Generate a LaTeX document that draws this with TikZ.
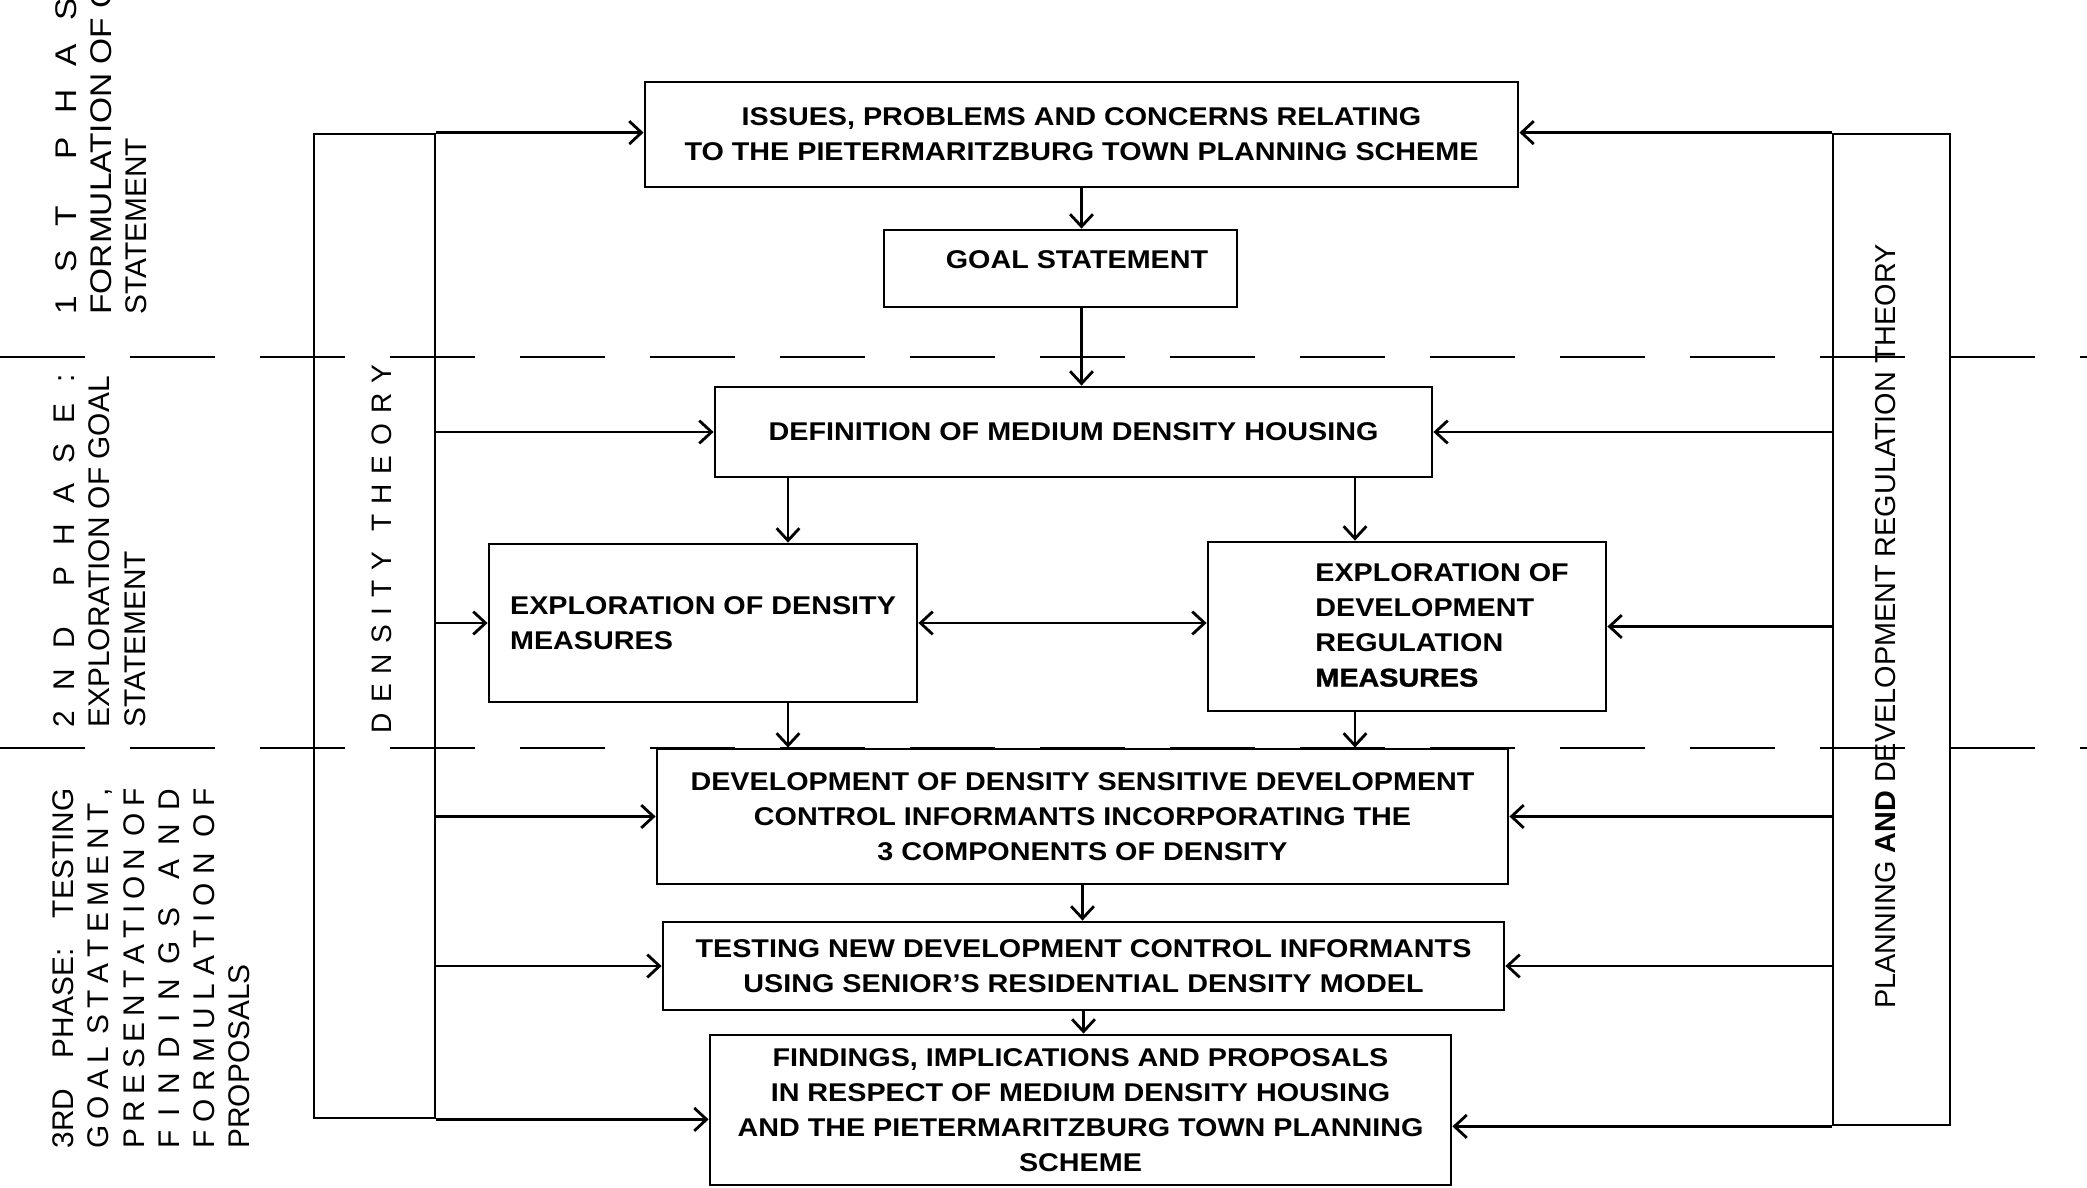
\documentclass[tikz,border=0pt]{standalone}
\usepackage{fontspec}
\setmainfont{Liberation Sans}
\newfontfamily\boxfont[FakeStretch=1.12]{Liberation Sans}
\newfontfamily\heavyfont[FakeStretch=1.12,FakeBold=1.5,UprightFont=* Bold,BoldFont=* Bold]{Liberation Sans}
\newfontfamily\widefont[FakeStretch=1.12]{Liberation Sans}
\usetikzlibrary{arrows.meta}

\tikzset{
    >={Straight Barb[length=3.5pt,width=6.5pt]},
    every path/.style={line width=0.8pt},
    box/.style={draw, line width=0.8pt, inner sep=0pt, align=center,
        font=\boxfont\bfseries\fontsize{7.3}{10}\selectfont},
    boxtext/.style={inner sep=0pt, font=\boxfont\bfseries\fontsize{7.3}{10}\selectfont},
    sidebar/.style={draw, line width=0.8pt, inner sep=0pt},
    phase/.style={rotate=90, align=left, inner sep=0pt, anchor=north west,
        font=\frenchspacing\fontsize{8.5}{10}\selectfont},
    phaseline/.style={line width=0.8pt, dash pattern=on 0.85cm off 0.45cm}
}

\begin{document}
\begin{tikzpicture}[x=0.1mm, y=-0.1mm]
    \useasboundingbox (0,0) rectangle (2087,1188);

    % phases
    \node[phase, font=\widefont\frenchspacing\fontsize{8.5}{10}\selectfont] (phaseone) at (54,316) {\makebox[3.95cm][s]{1 S T\ \ P H A S E :}\\FORMULATION OF GOAL\\{\rmfamily STATEMENT}};
    \node[phase] (phasetwo) at (52.5,729) {\makebox[3.53cm][s]{2 N D\ \ P H A S E :}\\EXPLORATION OF GOAL\\STATEMENT};
    \node[phase] (phasethree) at (51.5,1150) {\makebox[3.6cm][s]{3RD\ \ PHASE:\ \ TESTING}\\\makebox[3.6cm][s]{G O A L\ \ S T A T E M E N T ,}\\\makebox[3.6cm][s]{P R E S E N T A T I O N\ \ O F}\\\makebox[3.6cm][s]{F I N D I N G S\ \ A N D}\\\makebox[3.6cm][s]{F O R M U L A T I O N\ \ O F}\\PROPOSALS};

    \draw[phaseline] (0,357) -- (2087,357);
    \draw[phaseline] (0,748) -- (2087,748);

    % theories
    \node[sidebar, minimum width=1.21cm, minimum height=9.84cm] (denstheory) at (374.5,626) {};
    \node[sidebar, minimum width=1.17cm, minimum height=9.91cm] (plantheory) at (1891.5,629.5) {};
    \node[rotate=90, inner sep=0pt, font=\frenchspacing\fontsize{8}{9}\selectfont] (denslabel) at (382,549) {\makebox[3.68cm][s]{D E N S I T Y\ \ T H E O R Y}};
    \node[rotate=90, inner sep=0pt, font=\fontsize{8.2}{9}\selectfont] (planlabel) at (1886,626.5) {PLANNING {\bfseries AND} DEVELOPMENT REGULATION THEORY};

    % boxes
    \node[box, minimum width=8.73cm, minimum height=1.05cm] (issues) at (1081.5,134.5) {ISSUES, PROBLEMS AND CONCERNS RELATING\\TO THE PIETERMARITZBURG TOWN PLANNING SCHEME};
    \node[box, minimum width=3.53cm, minimum height=0.77cm] (goal) at (1060.5,268.5) {};
    \node[boxtext, anchor=base] (goaltext) at (1077,268) {GOAL STATEMENT};
    \node[box, minimum width=7.17cm, minimum height=0.90cm] (mdhdef) at (1073.5,432) {DEFINITION OF MEDIUM DENSITY HOUSING};
    \node[box, align=left, minimum width=4.28cm, minimum height=1.58cm] (densmeas) at (703,623) {EXPLORATION OF DENSITY\\MEASURES};
    \node[box, minimum width=3.98cm, minimum height=1.69cm] (regmeas) at (1407,626.5) {};
    \node[boxtext, align=left, anchor=west] (regmeastext) at (1314,625) {EXPLORATION OF\\DEVELOPMENT\\REGULATION\\{\heavyfont MEASURES}};
    \node[box, minimum width=8.51cm, minimum height=1.35cm] (informants) at (1082.5,816.5) {DEVELOPMENT OF DENSITY SENSITIVE DEVELOPMENT\\CONTROL INFORMANTS INCORPORATING THE\\3 COMPONENTS OF DENSITY};
    \node[box, minimum width=8.41cm, minimum height=0.88cm] (testing) at (1083.5,966) {TESTING NEW DEVELOPMENT CONTROL INFORMANTS\\USING SENIOR’S RESIDENTIAL DENSITY MODEL};
    \node[box, minimum width=7.41cm, minimum height=1.50cm] (findings) at (1080.5,1110) {FINDINGS, IMPLICATIONS AND PROPOSALS\\IN RESPECT OF MEDIUM DENSITY HOUSING\\AND THE PIETERMARITZBURG TOWN PLANNING\\SCHEME};

    \coordinate (densdrop) at ([xshift=0.85cm]densmeas.north);
    \coordinate (regdrop) at ([xshift=-0.52cm]regmeas.north);

    % main flow
    \draw[->] (issues.south) -- (issues.south |- goal.north);
    \draw[->] (issues.south |- goal.south) -- (issues.south |- mdhdef.north);
    \draw[->] (densdrop |- mdhdef.south) -- (densdrop);
    \draw[->] (regdrop |- mdhdef.south) -- (regdrop);
    \draw[<->] (densmeas.east) -- (densmeas.east -| regmeas.west);
    \draw[->] (densdrop |- densmeas.south) -- (densdrop |- informants.north);
    \draw[->] (regdrop |- regmeas.south) -- (regdrop |- informants.north);
    \draw[->] (informants.south) -- (informants.south |- testing.north);
    \draw[->] (testing.south) -- (testing.south |- findings.north);

    % density theory inputs
    \draw[->] (denstheory.north east) -- (denstheory.north east -| issues.west);
    \draw[->] (denstheory.east |- mdhdef) -- (mdhdef.west);
    \draw[->] (denstheory.east |- densmeas) -- (densmeas.west);
    \draw[->] (denstheory.east |- informants) -- (informants.west);
    \draw[->] (denstheory.east |- testing) -- (testing.west);
    \draw[->] (denstheory.south east) -- (denstheory.south east -| findings.west);

    % planning theory inputs
    \draw[->] (plantheory.north west) -- (plantheory.north west -| issues.east);
    \draw[->] (plantheory.west |- mdhdef) -- (mdhdef.east);
    \draw[->] (plantheory.west |- regmeas) -- (regmeas.east);
    \draw[->] (plantheory.west |- informants) -- (informants.east);
    \draw[->] (plantheory.west |- testing) -- (testing.east);
    \draw[->] (plantheory.south west) -- (plantheory.south west -| findings.east);
\end{tikzpicture}
\end{document}
